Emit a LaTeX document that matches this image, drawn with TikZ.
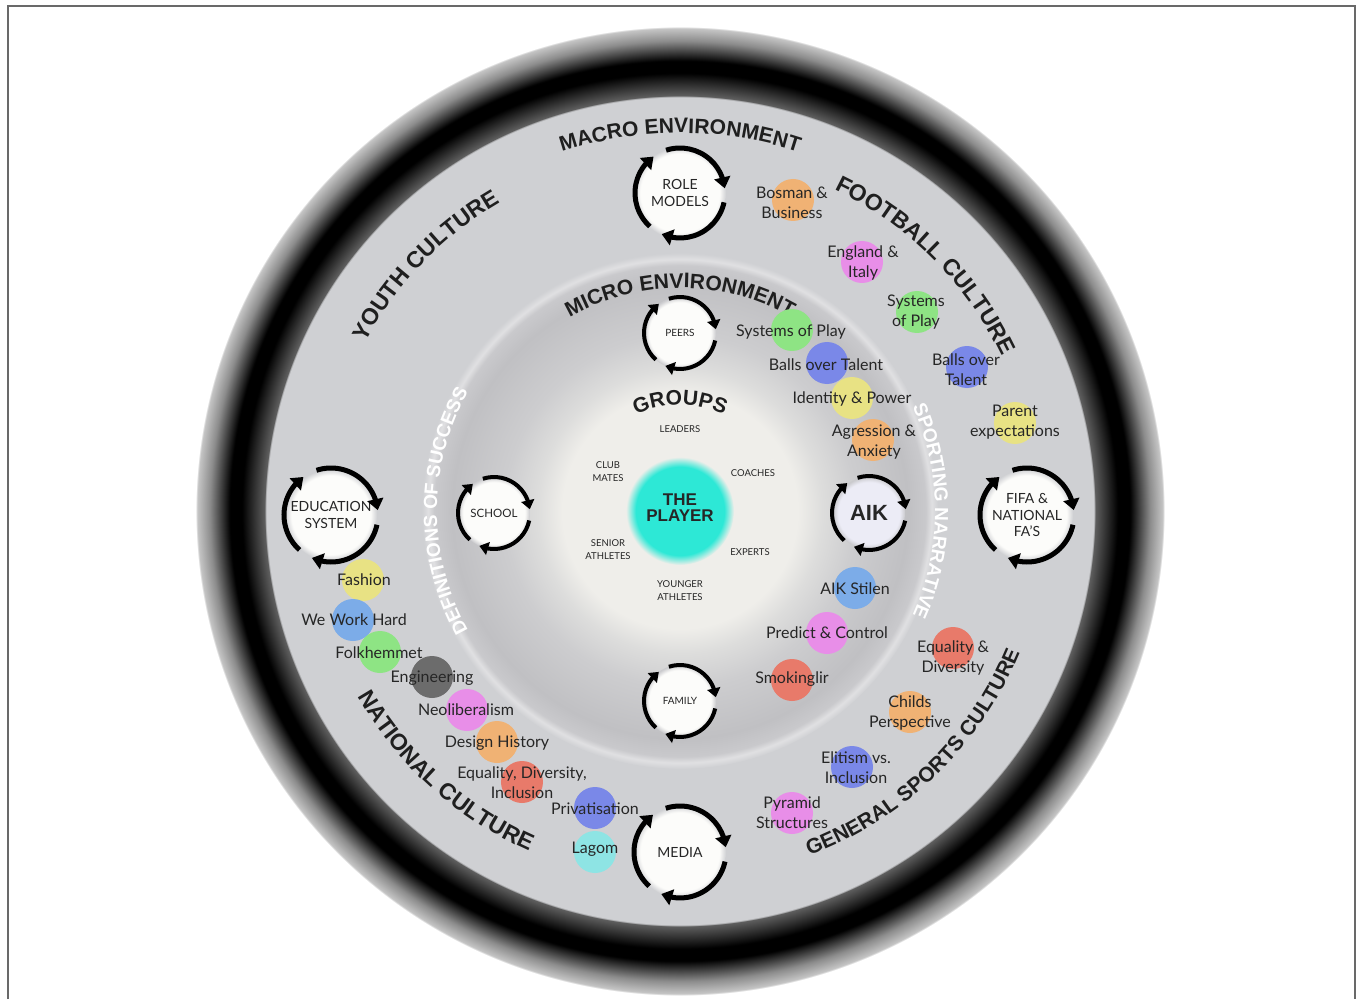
\documentclass[tikz,border=0pt]{standalone}
\usepackage{fontspec}
\setmainfont{Lato}
\newfontfamily\hv{Liberation Sans}
\usetikzlibrary{decorations.text,arrows.meta,bending}

\definecolor{macro}{RGB}{207,208,211}
\definecolor{grpw}{RGB}{239,238,234}
\definecolor{mA}{RGB}{221,221,220}
\definecolor{mB}{RGB}{205,205,207}
\definecolor{mC}{RGB}{192,192,195}
\definecolor{mD}{RGB}{201,201,204}
\definecolor{mE}{RGB}{224,224,226}
\definecolor{microbg}{RGB}{201,201,204}
\definecolor{ringin}{RGB}{94,94,94}
\definecolor{ringmid}{RGB}{140,140,140}
\definecolor{ringlt}{RGB}{198,198,198}
\definecolor{cyanp}{RGB}{45,232,214}
\definecolor{diskw}{RGB}{252,252,250}
\definecolor{aikw}{RGB}{236,236,246}
\definecolor{txt}{RGB}{38,38,38}
\definecolor{framec}{RGB}{105,105,105}
\definecolor{orangeB}{RGB}{240,178,116}
\definecolor{pinkB}{RGB}{232,142,232}
\definecolor{greenB}{RGB}{142,228,132}
\definecolor{blueB}{RGB}{122,136,232}
\definecolor{yellowB}{RGB}{232,226,132}
\definecolor{lblueB}{RGB}{124,172,232}
\definecolor{redB}{RGB}{232,122,106}
\definecolor{grayB}{RGB}{108,108,108}
\definecolor{aquaB}{RGB}{142,228,228}

% radial shadings: the path's radius corresponds to 25bp
\pgfdeclareradialshading{ringsh}{\pgfpoint{0bp}{0bp}}{color(0bp)=(macro); color(21.25bp)=(macro); color(21.32bp)=(ringin); color(22.48bp)=(black); color(23.1bp)=(black); color(24.13bp)=(ringmid); color(24.79bp)=(ringlt); color(24.86bp)=(white); color(50bp)=(white)}
\pgfdeclareradialshading{microsh}{\pgfpoint{0bp}{0bp}}{color(0bp)=(grpw); color(11.4bp)=(grpw); color(13.8bp)=(mA); color(17bp)=(mB); color(22.1bp)=(mC); color(23.8bp)=(mD); color(24.4bp)=(mE); color(25bp)=(macro); color(50bp)=(macro)}
\pgfdeclareradialshading{playersh}{\pgfpoint{0bp}{0bp}}{color(0bp)=(cyanp); color(20.5bp)=(cyanp); color(25bp)=(grpw); color(50bp)=(grpw)}
\pgfdeclareradialshading{wbigsh}{\pgfpoint{0bp}{0bp}}{color(0bp)=(diskw); color(21.5bp)=(diskw); color(25bp)=(macro); color(50bp)=(macro)}
\pgfdeclareradialshading{wsmallsh}{\pgfpoint{0bp}{0bp}}{color(0bp)=(diskw); color(21.5bp)=(diskw); color(25bp)=(microbg); color(50bp)=(microbg)}
\pgfdeclareradialshading{aiksh}{\pgfpoint{0bp}{0bp}}{color(0bp)=(aikw); color(21.5bp)=(aikw); color(25bp)=(microbg); color(50bp)=(microbg)}

\newcommand\fBig{\hv\bfseries\fontsize{23}{25}\selectfont}
\newcommand\fMid{\hv\bfseries\fontsize{21}{23}\selectfont}
\newcommand\fSm{\hv\bfseries\fontsize{19}{21}\selectfont}

\newcommand\cycarr[3]{\foreach \a in {0,120,240}{\draw[#3] ([shift={(\a+108:#2)}]#1.center) arc[start angle=\a+108, end angle=\a+6, radius=#2];}}

\tikzset{
 bigdisk/.style={circle, inner sep=0pt, minimum size=92pt, shade, shading=wbigsh, text=txt, align=center, font=\fontsize{14}{16.5}\selectfont},
 smalldisk/.style={circle, inner sep=0pt, minimum size=72pt, shade, shading=wsmallsh, text=txt, align=center, font=\fontsize{10}{12}\selectfont},
 bigarr/.style={line width=5pt, -{Triangle[length=11pt,width=16pt]}},
 smallarr/.style={line width=4pt, -{Triangle[length=9pt,width=13pt]}},
 bub/.style={circle, inner sep=0pt, minimum size=42pt, fill=#1},
 lab/.style={text=txt, align=center, inner sep=0pt, font=\fontsize{16}{20}\selectfont},
 grp/.style={text=txt, align=center, inner sep=0pt, font=\fontsize{9.5}{13}\selectfont},
 arctext/.style={decorate, decoration={text along path, text align=center, text color=black!88, text={#1}}},
 arcwhite/.style={decorate, decoration={text along path, text align=center, text color=white, text={#1}}},
}

\begin{document}
\begin{tikzpicture}[x=1pt,y=1pt]
\useasboundingbox (-680,-488) rectangle (677,511);
\draw[framec, line width=2pt] (-672,-488) -- (-672,505) -- (675,505) -- (675,-488);

% rings
\shade[shading=ringsh] (0,0) circle[radius=487];
\shade[shading=microsh] (0,0) circle[radius=258];
\node[circle, inner sep=0pt, minimum size=108pt, shade, shading=playersh] (playerdisk) at (0,0) {};

% curved titles
\path[arctext={|\fMid|MACRO ENVIRONMENT}] (150:378) arc[start angle=150, end angle=30, radius=378];
\path[arctext={|\fBig|YOUTH CULTURE}] (186:357) arc[start angle=186, end angle=86, radius=357];
\path[arctext={|\fBig|FOOTBALL CULTURE}] (95:357) arc[start angle=95, end angle=-5, radius=357];
\path[arctext={|\fBig|NATIONAL  CULTURE}] (178:372) arc[start angle=178, end angle=278, radius=372];
\path[arctext={|\fMid|GENERAL SPORTS CULTURE}] (264:368) arc[start angle=264, end angle=364, radius=368];
\path[arctext={|\fMid|MICRO ENVIRONMENT}] (150:223) arc[start angle=150, end angle=30, radius=223];
\path[arctext={|\fMid|GROUPS}] (170:106) arc[start angle=170, end angle=10, radius=106];
\path[arcwhite={|\fSm|DEFINITIONS OF SUCCESS}] (240:243) arc[start angle=240, end angle=120, radius=243];
\path[arcwhite={|\fSm|SPORTING NARRATIVE}] (60:255) arc[start angle=60, end angle=-60, radius=255];

% cycles
\node[bigdisk] (role) at (0,318) {ROLE\\MODELS};
\node[smalldisk] (peers) at (0,178) {PEERS};
\node[smalldisk, font=\fontsize{11.5}{13}\selectfont] (school) at (-186,-2) {SCHOOL};
\node[smalldisk] (family) at (0,-190) {FAMILY};
\node[smalldisk, shading=aiksh, font=\hv\bfseries\fontsize{22}{24}\selectfont] (aik) at (189,-2) {AIK};
\node[bigdisk] (edu) at (-349,-4) {EDUCATION\\SYSTEM};
\node[bigdisk] (fifa) at (347,-4) {FIFA \&\\NATIONAL\\FA’S};
\node[bigdisk] (media) at (0,-341) {MEDIA};
\cycarr{role}{45}{bigarr}
\cycarr{edu}{47}{bigarr}
\cycarr{fifa}{47}{bigarr}
\cycarr{media}{46}{bigarr}
\cycarr{peers}{36}{smallarr}
\cycarr{school}{36}{smallarr}
\cycarr{family}{36}{smallarr}
\cycarr{aik}{37}{smallarr}

% groups
\node[grp] (g1) at (0,82) {LEADERS};
\node[grp] (g2) at (-72,39) {CLUB\\MATES};
\node[grp] (g3) at (73,38) {COACHES};
\node[grp] (g4) at (-72,-39) {SENIOR\\ATHLETES};
\node[grp] (g5) at (70,-41) {EXPERTS};
\node[grp] (g6) at (0,-80) {YOUNGER\\ATHLETES};
\node[font=\hv\bfseries\fontsize{17}{16}\selectfont, align=center, text=txt, inner sep=0pt] (player) at (0,3) {THE\\PLAYER};

% bubbles
\node[bub=orangeB] (b1) at (113,311) {};
\node[bub=pinkB] (b2) at (182,249) {};
\node[bub=greenB] (b3) at (237,199) {};
\node[bub=greenB] (b4) at (112,181) {};
\node[bub=blueB] (b5) at (147,148) {};
\node[bub=blueB] (b6) at (287,144) {};
\node[bub=yellowB] (b7) at (172,113) {};
\node[bub=yellowB] (b8) at (335,88) {};
\node[bub=orangeB] (b9) at (193,71) {};
\node[bub=lblueB] (b10) at (175,-77) {};
\node[bub=pinkB] (b11) at (147,-122) {};
\node[bub=redB] (b12) at (112,-169) {};
\node[bub=redB] (b13) at (273,-137) {};
\node[bub=orangeB] (b14) at (230,-201) {};
\node[bub=blueB] (b15) at (172,-256) {};
\node[bub=pinkB] (b16) at (112,-302) {};
\node[bub=yellowB] (b17) at (-317,-69) {};
\node[bub=lblueB] (b18) at (-327,-109) {};
\node[bub=greenB] (b19) at (-300,-141) {};
\node[bub=grayB] (b20) at (-248,-166) {};
\node[bub=pinkB] (b21) at (-213,-199) {};
\node[bub=orangeB] (b22) at (-183,-231) {};
\node[bub=redB] (b23) at (-158,-271) {};
\node[bub=blueB] (b24) at (-85,-297) {};
\node[bub=aquaB] (b25) at (-85,-341) {};

% labels
\node[lab] (t1) at (112,308) {Bosman \&\\Business};
\node[lab] (t2) at (183,248) {England \&\\Italy};
\node[lab] (t3) at (236,199) {Systems\\of Play};
\node[lab] (t4) at (111,179) {Systems of Play};
\node[lab] (t5) at (146,146) {Balls over Talent};
\node[lab] (t6) at (286,141) {Balls over\\Talent};
\node[lab] (t7) at (172,112) {Identity \& Power};
\node[lab] (t8) at (335,89) {Parent\\expectations};
\node[lab] (t9) at (194,69) {Agression \&\\Anxiety};
\node[lab] (t10) at (175,-78) {AIK Stilen};
\node[lab] (t11) at (147,-122) {Predict \& Control};
\node[lab] (t12) at (112,-168) {Smokinglir};
\node[lab] (t13) at (273,-147) {Equality \&\\Diversity};
\node[lab] (t14) at (230,-202) {Childs\\Perspective};
\node[lab] (t15) at (176,-257) {Elitism vs.\\Inclusion};
\node[lab] (t16) at (112,-302) {Pyramid\\Structures};
\node[lab] (t17) at (-316,-69) {Fashion};
\node[lab] (t18) at (-326,-109) {We Work Hard};
\node[lab] (t19) at (-301,-142) {Folkhemmet};
\node[lab] (t20) at (-248,-167) {Engineering};
\node[lab] (t21) at (-214,-199) {Neoliberalism};
\node[lab] (t22) at (-183,-232) {Design History};
\node[lab] (t23) at (-158,-272) {Equality, Diversity,\\Inclusion};
\node[lab] (t24) at (-85,-298) {Privatisation};
\node[lab] (t25) at (-85,-338) {Lagom};
\end{tikzpicture}
\end{document}
